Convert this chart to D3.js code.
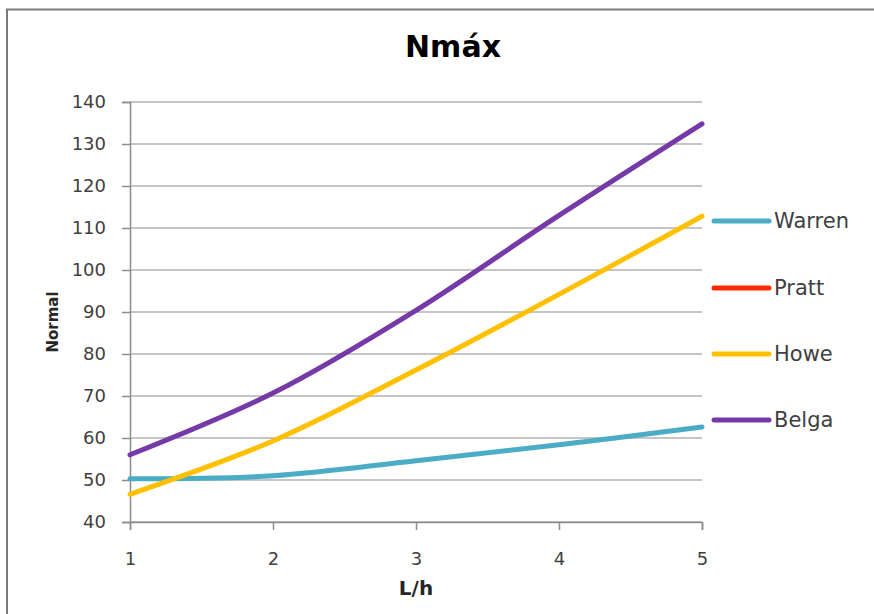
<!DOCTYPE html>
<html><head><meta charset="utf-8">
<script src="https://cdn.jsdelivr.net/npm/d3@7"></script>
<style>body{margin:0;background:#fff}svg{display:block}text{font-family:"DejaVu Sans",sans-serif}</style>
</head><body>
<script>
const xValues = [1, 2, 3, 4, 5];
const seriesNames = ["Warren", "Pratt", "Howe", "Belga"];
const warren = [50.3, 51.0, 54.6, 58.4, 62.6];
const pratt  = [46.6, 59.3, 76.2, 94.2, 112.8];
const howe   = [46.6, 59.3, 76.2, 94.2, 112.8];
const belga  = [56.0, 70.7, 90.4, 113.0, 134.8];
const yTicks = [40, 50, 60, 70, 80, 90, 100, 110, 120, 130, 140];
const xTicks = [1, 2, 3, 4, 5];
const colors = ["#4BACC6", "#FF2A00", "#FFC000", "#7539A8"];
const widths = [5, 3.5, 5, 5];
const seriesValues = [warren, pratt, howe, belga];

const W = 874, H = 614;
const svg = d3.select("body").append("svg").attr("width", W).attr("height", H);

// outer frame
svg.append("rect").attr("x", 7).attr("y", 9.5).attr("width", 880).attr("height", 620)
  .attr("fill", "#fff").attr("stroke", "#7a7a7a").attr("stroke-width", 2);

const x = d3.scaleLinear().domain([1, 5]).range([130, 702]);
const y = d3.scaleLinear().domain([40, 140]).range([522, 102]);

// gridlines
svg.append("g").selectAll("line").data(yTicks).join("line")
  .attr("x1", 130).attr("x2", 702)
  .attr("y1", d => y(d)).attr("y2", d => y(d))
  .attr("stroke", "#8c8c8c").attr("stroke-width", 1.2);

// axes
const yAxis = svg.append("g").attr("transform", "translate(130,0)")
  .call(d3.axisLeft(y).tickValues(yTicks).tickSize(8).tickPadding(16));
const xAxis = svg.append("g").attr("transform", "translate(0,522)")
  .call(d3.axisBottom(x).tickValues(xTicks).tickSize(8).tickPadding(22).tickFormat(d3.format("d")));
[yAxis, xAxis].forEach(g => {
  g.select(".domain").attr("stroke", "#8c8c8c").attr("stroke-width", 1.5);
  g.selectAll(".tick line").attr("stroke", "#8c8c8c").attr("stroke-width", 1.5);
  g.selectAll(".tick text").attr("fill", "#404040").style("font-size", "18px").style("font-family", "'DejaVu Sans',sans-serif");
});

// lines
const line = d3.line().x((d, i) => x(xValues[i])).y(d => y(d)).curve(d3.curveCatmullRom.alpha(0.5));
svg.append("g").selectAll("path").data(seriesValues).join("path")
  .attr("d", d => line(d)).attr("fill", "none")
  .attr("stroke", (d, i) => colors[i]).attr("stroke-width", (d, i) => widths[i])
  .attr("stroke-linecap", "round");

// title
svg.append("text").attr("x", 453).attr("y", 57).attr("text-anchor", "middle")
  .style("font-size", "30px").style("font-weight", "bold").attr("fill", "#000").text("Nmáx");

// axis labels
svg.append("text").attr("transform", "translate(58,322) rotate(-90)").attr("text-anchor", "middle")
  .style("font-size", "15px").style("font-weight", "bold").attr("fill", "#262626").text("Normal");
svg.append("text").attr("x", 416).attr("y", 595).attr("text-anchor", "middle")
  .style("font-size", "20px").style("font-weight", "bold").attr("fill", "#262626").text("L/h");

// legend
const legY = [221, 288, 354, 420];
const leg = svg.append("g").selectAll("g").data(seriesNames).join("g")
  .attr("transform", (d, i) => `translate(0,${legY[i]})`);
leg.append("line").attr("x1", 714).attr("x2", 769).attr("y1", 0).attr("y2", 0)
  .attr("stroke", (d, i) => colors[i]).attr("stroke-width", 5).attr("stroke-linecap", "round");
leg.append("text").attr("x", 774).attr("y", 7).style("font-size", "21px")
  .attr("fill", "#404040").text(d => d);
</script>
</body></html>
